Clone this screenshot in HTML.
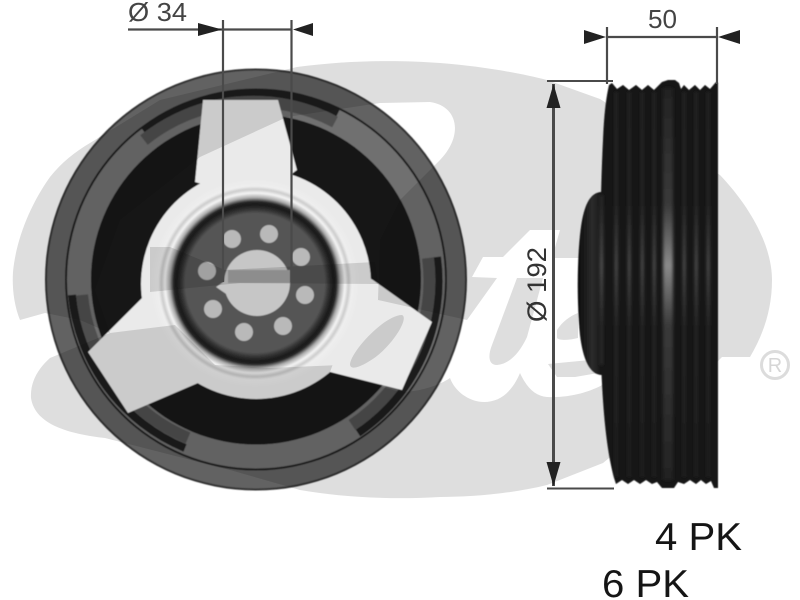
<!DOCTYPE html>
<html><head><meta charset="utf-8"><style>
html,body{margin:0;padding:0;background:#fff;width:800px;height:600px;overflow:hidden}
svg{display:block}
text{font-family:"Liberation Sans",sans-serif}
</style></head><body>
<svg width="800" height="600" viewBox="0 0 800 600" xmlns="http://www.w3.org/2000/svg">
<defs>
<filter id="b" x="-5%" y="-5%" width="110%" height="110%"><feGaussianBlur stdDeviation="0.6"/></filter>
<filter id="b2" x="-50%" y="-5%" width="200%" height="110%"><feGaussianBlur stdDeviation="1.5"/></filter>
<linearGradient id="vf" x1="0" y1="85" x2="0" y2="486" gradientUnits="userSpaceOnUse">
<stop offset="0" stop-color="#262626"/><stop offset=".3" stop-color="#2c2c2c"/><stop offset=".45" stop-color="#5a5a5a"/><stop offset=".6" stop-color="#2c2c2c"/><stop offset="1" stop-color="#202020"/>
</linearGradient>
<linearGradient id="vf2" x1="0" y1="85" x2="0" y2="486" gradientUnits="userSpaceOnUse">
<stop offset="0" stop-color="#222"/><stop offset=".3" stop-color="#3a3a3a"/><stop offset=".45" stop-color="#8a8a8a"/><stop offset=".6" stop-color="#3a3a3a"/><stop offset="1" stop-color="#222"/>
</linearGradient>
<linearGradient id="hb" x1="578" y1="0" x2="602" y2="0" gradientUnits="userSpaceOnUse">
<stop offset="0" stop-color="#0c0c0c"/><stop offset=".6" stop-color="#2c2c2c"/><stop offset="1" stop-color="#141414"/>
</linearGradient>
<radialGradient id="hub" gradientUnits="userSpaceOnUse" cx="255" cy="283" r="104">
<stop offset="0" stop-color="#555"/><stop offset=".67" stop-color="#555"/><stop offset=".71" stop-color="#333"/><stop offset=".75" stop-color="#1c1c1c"/><stop offset=".78" stop-color="#222"/><stop offset=".82" stop-color="#aaa"/><stop offset=".865" stop-color="#f5f5f5"/><stop offset=".9" stop-color="#ccc"/><stop offset=".93" stop-color="#eee"/><stop offset="1" stop-color="#eaeaea"/>
</radialGradient>
</defs>

<!-- pulley front -->
<g filter="url(#b)">
<circle cx="256" cy="279.5" r="211" fill="#333"/>
<circle cx="256" cy="279.5" r="209" fill="#626262"/>
<circle cx="256" cy="279.5" r="191" fill="#1e1e1e"/>
<circle cx="256" cy="279.5" r="189" fill="#707070"/>
<path d="M144,131.6 A185,185 0 0 1 338,113" fill="none" stroke="#1a1a1a" stroke-width="8"/>
<path d="M144,140 A175,175 0 0 1 335,122" fill="none" stroke="#505050" stroke-width="12"/>
<path d="M437,257 A183,183 0 0 1 358,433" fill="none" stroke="#1a1a1a" stroke-width="8"/>
<path d="M428,258 A173,173 0 0 1 352,425" fill="none" stroke="#505050" stroke-width="12"/>
<path d="M72,295 A184,184 0 0 0 185,448" fill="none" stroke="#1a1a1a" stroke-width="8"/>
<path d="M82,295 A174,174 0 0 0 188,438" fill="none" stroke="#505050" stroke-width="12"/>
<circle cx="256" cy="279.5" r="165" fill="#121212"/>
<!-- spokes -->
<circle cx="256" cy="284" r="115" fill="#eaeaea"/>
<polygon points="203,100 278,100 297,170 256,200 195,182" fill="#eaeaea"/>
<polygon points="143,297 88,352 128,413 198,383 240,330 190,270" fill="#eaeaea"/>
<polygon points="373,280 432,322 402,390 330,372 290,320 340,260" fill="#eaeaea"/>
<!-- hub -->
<circle cx="255" cy="283" r="104" fill="url(#hub)"/>
<circle cx="257" cy="283" r="33" fill="#c6c6c6"/>
<polygon points="216,287 232,276 232,298" fill="#c6c6c6"/>
<g fill="#b9b9b9">
<circle cx="232" cy="239" r="9"/><circle cx="269" cy="234" r="9"/><circle cx="301" cy="257" r="9"/>
<circle cx="207" cy="271" r="9"/><circle cx="305" cy="295" r="9"/><circle cx="213" cy="309" r="9"/>
<circle cx="244" cy="332" r="9"/><circle cx="283" cy="326" r="9"/>
</g>
<rect x="228" y="270" width="62" height="13" fill="#a2a2a2"/>
</g>

<!-- logo multiplied over pulley -->
<g style="mix-blend-mode:multiply">
<path d="M13,272 C16,240 30,205 50,177 C62,162 75,152 90,143 L160,100 L297,67 C350,60 400,60 440,63 C480,66 520,73 547,80 L600,99 L720,175 C755,212 772,250 772,280 C772,310 763,335 750,357 L722,357 L680,400 L603,463 L547,485 C510,494 470,497 440,497 C390,500 340,497 300,490 L230,470 L105,438 C70,434 35,425 31,398 C30,380 40,367 50,358 L110,333 L80,320 L45,313 L20,320 C14,305 12,288 13,272 Z" fill="#dedede"/>
<!-- G white -->
<path d="M110,333 L95,290 L120,220 L200,157 L287,117 L380,103 L430,102 C458,106 464,135 440,160 L400,200 L380,240 L378,300 L340,365 L270,368 L215,365 L175,325 Z" fill="#fff"/>
<polygon points="150,247 170,247 225,270 375,262 378,284 240,283 150,292" fill="#dedede"/>
<polygon points="150,247 150,292 112,295 120,250" fill="#fff"/>
<!-- a / t / e white -->
<path d="M503,257 L530,230 L560,230 L552,258 L604,258 L604,384 C590,392 570,398 547,397 C535,396 527,388 520,373 C512,392 500,402 484,402 C470,402 455,392 450,378 C440,385 420,392 400,392 L330,372 L340,345 L378,300 L467,320 L497,278 L472,277 L483,257 Z" fill="#fff"/>
<path d="M517,278 L543,278 L527,337 C520,352 510,364 497,365 C488,365 488,355 492,345 Z" fill="#dedede"/>
<path d="M557,330 C562,322 570,316 578,313 L578,338 C570,340 560,341 557,338 Z" fill="#dedede"/>
<path d="M548,364 L590,360 L604,345 L604,372 L575,377 L557,377 Z" fill="#dedede"/>
<path d="M350,364 C352,350 385,315 402,315 C410,318 390,350 368,362 C358,368 350,370 350,364 Z" fill="#dedede"/>
</g>

<!-- registered mark -->
<circle cx="775" cy="365" r="13.5" fill="none" stroke="#dcdcdc" stroke-width="3"/>
<text x="775" y="372" font-size="20" text-anchor="middle" fill="#d6d6d6">R</text>

<!-- side view -->
<g filter="url(#b)">
<path d="M602,192 C590,192 583,205 580,235 C577,265 577,305 580,335 C583,360 590,375 602,375 Z" fill="url(#hb)"/>
<path d="M609,85 L612,83 L617,89 L623,85 L629,90 L636,85 L642,90 L648,85 L654,90 L658,86 L662,82 L668,80 L675,80 L679,83 L681,89 L684,85 L689,90 L695,85 L700,90 L705,85 L710,89 L716,82 L718,83 L718,488 L714,488 L711,481 L706,484 L701,480 L696,484 L690,480 L684,484 L678,482 L674,488 L662,488 L657,482 L652,484 L646,480 L640,484 L634,480 L628,484 L622,480 L616,484 C608,460 603,420 601,360 C599,300 600,200 603,140 C604,115 606,98 609,85 Z" fill="#131313"/>
</g>
<g filter="url(#b2)">
<rect x="615" y="92" width="2.5" height="385" fill="url(#vf)"/>
<rect x="628" y="92" width="2.5" height="385" fill="url(#vf)"/>
<rect x="641" y="92" width="2.5" height="385" fill="url(#vf)"/>
<rect x="653" y="92" width="2.5" height="385" fill="url(#vf)"/>
<rect x="663" y="88" width="10" height="392" fill="url(#vf2)"/>
<rect x="683" y="92" width="2.5" height="385" fill="url(#vf)"/>
<rect x="695" y="92" width="2.5" height="385" fill="url(#vf)"/>
<rect x="707" y="92" width="2.5" height="385" fill="url(#vf)"/>
<rect x="600" y="195" width="3" height="170" fill="url(#vf)"/>
</g>

<!-- dimension Ø 34 -->
<g stroke="#4a4a4a" stroke-width="2.2" fill="none">
<path d="M223,20 V282"/><path d="M291.5,20 V282"/><path d="M128,29.5 H292"/>
</g>
<polygon points="198,23 222,29.5 198,36" fill="#222"/>
<polygon points="313,23 293,29.5 313,36" fill="#222"/>
<text x="128" y="21" font-size="26" fill="#444" textLength="59" lengthAdjust="spacingAndGlyphs">Ø 34</text>

<!-- dimension 50 -->
<g stroke="#4a4a4a" stroke-width="2.2" fill="none">
<path d="M607,27 V84"/><path d="M717,27 V84"/><path d="M607,37 H717"/>
</g>
<polygon points="584,30 606,37 584,44" fill="#222"/>
<polygon points="740,30 718,37 740,44" fill="#222"/>
<text x="648" y="28" font-size="26" fill="#444" textLength="29" lengthAdjust="spacingAndGlyphs">50</text>

<!-- dimension Ø 192 -->
<g stroke="#4a4a4a" fill="none">
<path d="M553.5,84 V486" stroke-width="3"/>
<path d="M547,81 H613" stroke-width="2"/>
<path d="M547,488.5 H614" stroke-width="2"/>
</g>
<polygon points="553.5,84 546.5,108 560.5,108" fill="#222"/>
<polygon points="553.5,486 546.5,462 560.5,462" fill="#222"/>
<text transform="translate(546,322) rotate(-90)" font-size="27" fill="#333" textLength="75" lengthAdjust="spacingAndGlyphs">Ø 192</text>

<text x="655" y="550" font-size="39" fill="#151515" textLength="87" lengthAdjust="spacingAndGlyphs">4 PK</text>
<text x="602" y="597" font-size="39" fill="#151515" textLength="87" lengthAdjust="spacingAndGlyphs">6 PK</text>
</svg>
</body></html>
